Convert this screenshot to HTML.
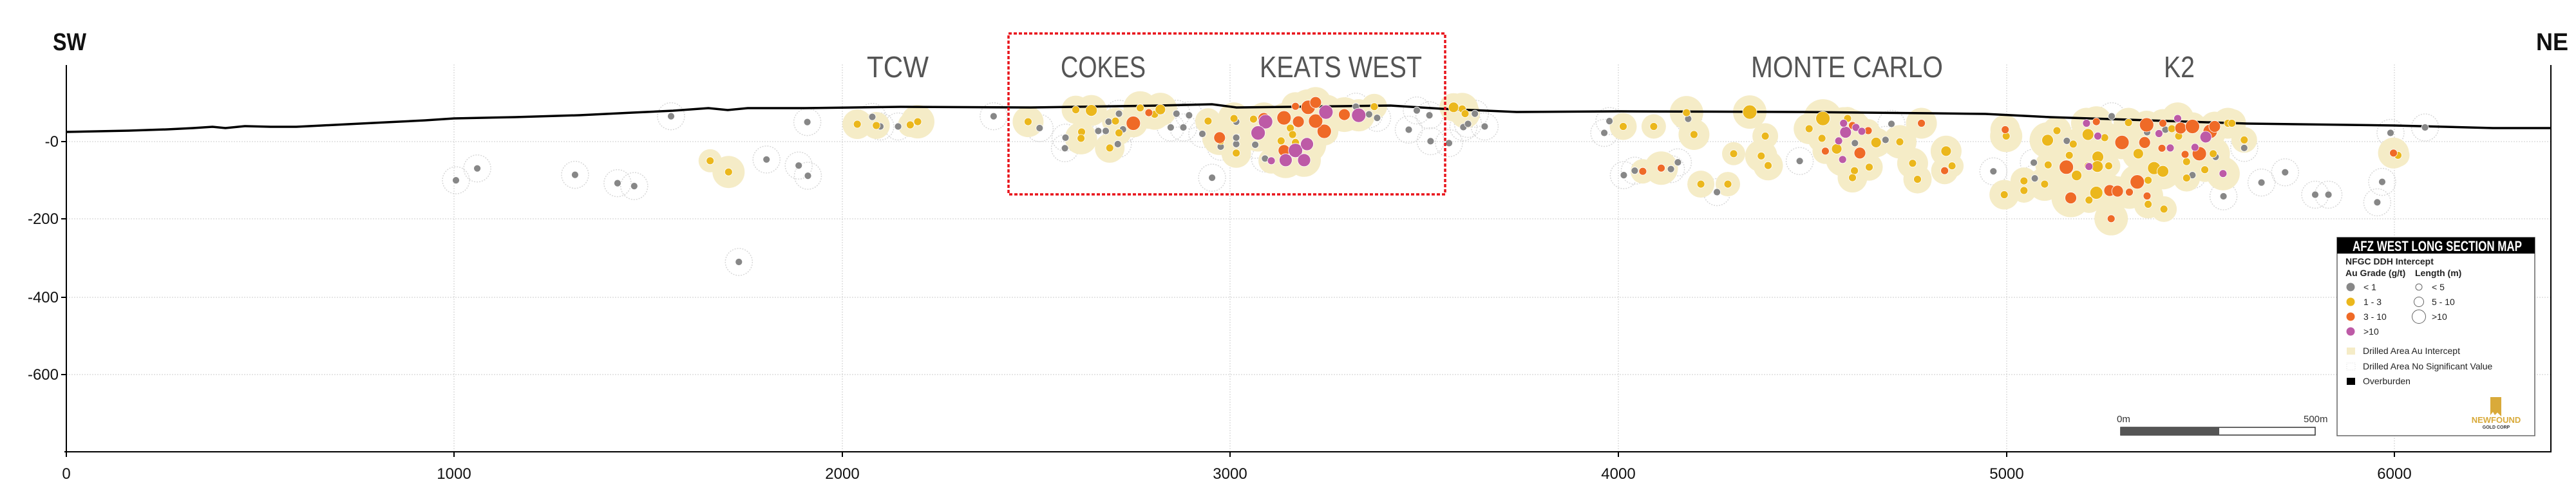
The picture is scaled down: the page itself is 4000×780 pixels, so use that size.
<!DOCTYPE html>
<html><head><meta charset="utf-8">
<style>
html,body{margin:0;padding:0;background:#fff;}
svg{display:block;}
text{font-family:"Liberation Sans Narrow","Liberation Sans",sans-serif;}
</style></head>
<body>
<svg id="s" width="4000" height="780" xmlns="http://www.w3.org/2000/svg">
<rect width="4000" height="780" fill="#fff"/>
<g stroke="#ccc" stroke-width="1" stroke-dasharray="2,2">
<line x1="103" y1="220" x2="3961" y2="220"/>
<line x1="103" y1="340" x2="3961" y2="340"/>
<line x1="103" y1="462" x2="3961" y2="462"/>
<line x1="103" y1="582" x2="3961" y2="582"/>
<line x1="705" y1="100" x2="705" y2="702"/>
<line x1="1308" y1="100" x2="1308" y2="702"/>
<line x1="1910" y1="100" x2="1910" y2="702"/>
<line x1="2513" y1="100" x2="2513" y2="702"/>
<line x1="3116" y1="100" x2="3116" y2="702"/>
<line x1="3718" y1="100" x2="3718" y2="702"/>
</g>
<g id="halos"></g>
<polyline fill="none" stroke="#000" stroke-width="3.5" points="103,205 200,203 260,201 300,199 330,197 350,199 380,196 420,197 460,197 500,195 540,193 600,190 660,187 705,184 800,182 900,179 982,175 1045,172 1100,168 1130,171 1161,168 1250,168 1400,166 1600,167 1800,164 1882,162 1920,167 2159,164 2239,169 2355,174 2516,173 2800,174 3000,176 3083,177 3183,182 3489,192 3718,195 3871,199 3961,199"/>
<g id="dots"></g>
<g stroke="#000" stroke-width="2">
<line x1="103" y1="101" x2="103" y2="703"/>
<line x1="3961" y1="101" x2="3961" y2="703"/>
<line x1="100" y1="702" x2="3961" y2="702"/>
<line x1="103" y1="702" x2="103" y2="710"/><line x1="705" y1="702" x2="705" y2="710"/><line x1="1308" y1="702" x2="1308" y2="710"/><line x1="1910" y1="702" x2="1910" y2="710"/><line x1="2513" y1="702" x2="2513" y2="710"/><line x1="3116" y1="702" x2="3116" y2="710"/><line x1="3718" y1="702" x2="3718" y2="710"/>
<line x1="95" y1="220" x2="103" y2="220"/><line x1="95" y1="340" x2="103" y2="340"/><line x1="95" y1="462" x2="103" y2="462"/><line x1="95" y1="582" x2="103" y2="582"/>
</g>
<g font-size="24" fill="#111" text-anchor="middle">
<text x="103" y="744">0</text><text x="705" y="744">1000</text><text x="1308" y="744">2000</text><text x="1910" y="744">3000</text><text x="2513" y="744">4000</text><text x="3116" y="744">5000</text><text x="3718" y="744">6000</text>
</g>
<g font-size="24" fill="#111" text-anchor="end">
<text x="91" y="228">-0</text><text x="91" y="348">-200</text><text x="91" y="470">-400</text><text x="91" y="590">-600</text>
</g>
<text x="82" y="78" font-size="38" font-weight="bold" fill="#111" textLength="52" lengthAdjust="spacingAndGlyphs">SW</text>
<text x="3938" y="78" font-size="38" font-weight="bold" fill="#111" textLength="50" lengthAdjust="spacingAndGlyphs">NE</text>
<g font-size="46" fill="#555">
<text x="1346" y="120" textLength="96" lengthAdjust="spacingAndGlyphs">TCW</text>
<text x="1647" y="120" textLength="132" lengthAdjust="spacingAndGlyphs">COKES</text>
<text x="1956" y="120" textLength="252" lengthAdjust="spacingAndGlyphs">KEATS WEST</text>
<text x="2719" y="120" textLength="298" lengthAdjust="spacingAndGlyphs">MONTE CARLO</text>
<text x="3360" y="120" textLength="48" lengthAdjust="spacingAndGlyphs">K2</text>
</g>
<rect x="1566" y="52" width="678" height="250" fill="none" stroke="#e8141b" stroke-width="3.5" stroke-dasharray="5,3"/>
<text x="3287" y="656" font-size="15" fill="#333">0m</text>
<text x="3577" y="656" font-size="15" fill="#333">500m</text>
<rect x="3293" y="664" width="302" height="12" fill="#fff" stroke="#333" stroke-width="1.5"/>
<rect x="3293" y="664" width="153" height="12" fill="#555"/>
<rect x="3629" y="369" width="307" height="308" fill="#fff" stroke="#666" stroke-width="1.5"/>
<rect x="3629" y="369" width="307" height="25" fill="#000"/>
<text x="3653" y="390" font-size="22" font-weight="bold" fill="#fff" textLength="263" lengthAdjust="spacingAndGlyphs">AFZ WEST LONG SECTION MAP</text>
<g font-size="14" fill="#222">
<text x="3642" y="411" font-weight="bold">NFGC DDH Intercept</text>
<text x="3642" y="429" font-weight="bold">Au Grade (g/t)</text>
<text x="3750" y="429" font-weight="bold">Length (m)</text>
<text x="3670" y="451">&lt; 1</text><text x="3670" y="474">1 - 3</text><text x="3670" y="497">3 - 10</text><text x="3670" y="520">&gt;10</text>
<text x="3776" y="451">&lt; 5</text><text x="3776" y="474">5 - 10</text><text x="3776" y="497">&gt;10</text>
<text x="3669" y="550">Drilled Area Au Intercept</text>
<text x="3669" y="574">Drilled Area No Significant Value</text>
<text x="3669" y="597">Overburden</text>
</g>
<circle cx="3650" cy="446" r="6.5" fill="#878787"/>
<circle cx="3650" cy="469" r="6.5" fill="#ebb71c"/>
<circle cx="3650" cy="492" r="6.5" fill="#ef6a27"/>
<circle cx="3650" cy="515" r="6.5" fill="#bd5aa6"/>
<circle cx="3756" cy="446" r="5" fill="none" stroke="#666"/>
<circle cx="3756" cy="469" r="7.5" fill="none" stroke="#666"/>
<circle cx="3756" cy="492" r="10.5" fill="none" stroke="#666"/>
<rect x="3644" y="540" width="13" height="11" fill="#f5ecc7"/>
<rect x="3644" y="564" width="13" height="11" fill="none" stroke="#ddd" stroke-dasharray="1,2"/>
<rect x="3644" y="587" width="13" height="11" fill="#000"/>
<path d="M3867,617 h17 v30 l-6,-6 l-4,4 l-3,-5 l-4,5 z" fill="#d9aa3a"/>
<text x="3876" y="657" font-size="13" font-weight="bold" fill="#d9aa3a" text-anchor="middle">NEWFOUND</text>
<text x="3876" y="666" font-size="7" font-weight="bold" fill="#333" text-anchor="middle">GOLD CORP</text>
</svg>
<script>
var Z=[[0,1.12,2.01],[1400,1.12,2.01],[2800,1.307,2.01]];
var C={g:"#878787",y:"#ebb71c",o:"#ef6a27",p:"#bd5aa6"};
var D={
g:[[0,793,563],[0,830,526],[0,1000,546],[0,1074,572],[0,1103,581],[0,1167,363],[0,1404,381],[0,1333,498],[0,1389,517],[0,1405,549],[0,1285,818],[0,1517,365],[0,1531,395],[0,1562,395],
[1,160,363],[1,240,400],[1,285,430],[1,284,463],[1,342,409],[1,355,409],[1,360,380],[1,378,355],[1,385,404],[1,376,450],[1,468,398],[1,490,398],[1,478,355],[1,500,360],[1,452,348],[1,523,418],[1,540,555],[1,555,458],[1,582,450],[1,582,380],[1,582,430],[1,615,452],[1,632,495],[1,790,333],[1,813,357],[1,827,368],[1,882,405],[1,896,345],[1,918,360],[1,920,441],[1,952,447],[1,977,397],[1,985,387],[1,997,355],[1,1014,395],[1,1222,415],[1,1231,378],[1,1256,547],[1,1275,533],[1,1338,528],[1,1350,507],[1,1368,371],[1,1418,600],[1,1562,503],
[2,179,387],[2,167,437],[2,105,447],[2,386,535],[2,468,508],[2,470,557],[2,535,440],[2,626,363],[2,698,413],[2,735,405],[2,837,490],[2,790,547],[2,853,613],[2,895,462],[2,930,570],[2,978,538],[2,1039,608],[2,1066,608],[2,1175,568],[2,1165,632],[2,1192,415],[2,1262,398]],
y:[[0,1235,502],[0,1267,537],[0,1491,388],[0,1524,392],
[1,15,390],[1,28,380],[1,220,380],[1,303,343],[1,330,345,9],[1,313,412],[1,312,432],[1,362,462],[1,372,378],[1,378,415],[1,415,337],[1,440,357],[1,450,342,8],[1,533,378],[1,555,440],[1,578,370],[1,582,478],[1,612,372],[1,660,440],[1,685,445],[1,676,400],[1,680,420],[1,822,333],[1,960,335,8],[1,975,340],[1,980,355],[1,1255,395],[1,1308,395],[1,1365,352],[1,1378,420],[1,1475,350,11],[1,1502,425],[1,1447,480],[1,1495,487],[1,1507,517],[1,1390,575],[1,1437,575],
[2,40,370,11],[2,12,402],[2,38,432],[2,68,465,8],[2,90,370],[2,104,533],[2,100,555],[2,134,522],[2,148,445,8],[2,196,443],[2,222,510],[2,232,560],[2,290,472,8],[2,302,518],[2,412,425],[2,408,608],[2,448,565],[2,448,595],[2,490,575],[2,496,438,9],[2,515,408],[2,497,515],[2,555,548,8],[2,540,485],[2,548,450],[2,578,420,9],[2,578,518],[2,598,490,9],[2,597,520,9],[2,595,602,10],[2,580,625],[2,620,518],[2,612,430],[2,660,383],[2,680,480,8],[2,700,563],[2,712,525,10],[2,730,535,9],[2,700,638],[2,732,653],[2,748,402],[2,762,425],[2,778,505],[2,778,556],[2,815,530],[2,832,480],[2,862,385],[2,870,385],[2,895,437],[2,1207,485]],
o:[[1,403,385,11],[1,430,352],[1,553,430,9],[1,630,370,9],[1,665,368,11],[1,690,380,9],[1,707,335,11],[1,685,332],[1,720,320,9],[1,735,410,11],[1,720,378,11],[1,770,358,9],[1,665,470,9],[1,1289,535],[1,1321,525],
[2,240,385],[2,115,478,9],[2,45,472],[2,132,408],[2,100,392],[2,410,405],[2,287,533],[2,534,522,11],[2,543,618,9],[2,595,380],[2,647,445,11],[2,693,445,9],[2,697,390,11],[2,698,612],[2,678,568,11],[2,622,595,9],[2,638,597,9],[2,662,600],[2,728,463],[2,730,385],[2,766,400,9],[2,790,395,11],[2,804,480,11],[2,775,482],[2,826,410,11],[2,835,395,9],[2,625,683],[2,1198,478]],
p:[[1,633,380,11],[1,620,415,11],[1,738,350,11],[1,795,360,11],[1,685,470,11],[1,705,450,10],[1,668,500,10],[1,700,500,10],[1,643,502],
[2,86,413,9],[2,82,385],[2,107,398],[2,119,410],[2,72,440],[2,80,498],[2,575,385],[2,598,425],[2,580,520],[2,722,417],[2,760,370],[2,745,462],[2,795,460],[2,817,428,9],[2,852,542]]};
var H="",T="";
function pt(a){var z=Z[a[0]];return [z[0]+a[1]/z[1],a[2]/z[2],a[3]||6];}
D.g.forEach(function(a){var p=pt(a);H+='<circle cx="'+p[0].toFixed(1)+'" cy="'+p[1].toFixed(1)+'" r="21" fill="none" stroke="#d8d8d8" stroke-width="1.5" stroke-dasharray="2,2"/>';});
["y","o","p"].forEach(function(k){D[k].forEach(function(a,i){var p=pt(a);var r=18+((i*7)%9)+(p[2]>7?4:0);H+='<circle cx="'+p[0].toFixed(1)+'" cy="'+p[1].toFixed(1)+'" r="'+r+'" fill="#f5ecc7"/>';});});
["g","y","o","p"].forEach(function(k){D[k].forEach(function(a){var p=pt(a);T+='<circle cx="'+p[0].toFixed(1)+'" cy="'+p[1].toFixed(1)+'" r="'+(k=="g"?5.5:p[2])+'" fill="'+C[k]+'" stroke="#fff" stroke-width="0.8"/>';});});
document.getElementById("halos").innerHTML=H;
document.getElementById("dots").innerHTML=T;
</script>
</body></html>
